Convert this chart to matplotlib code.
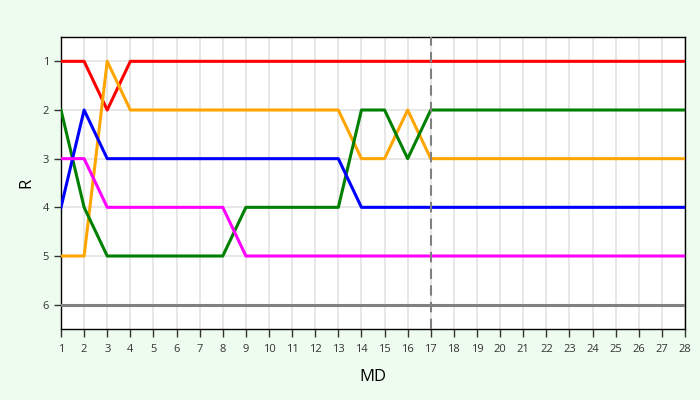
import matplotlib
matplotlib.use("Agg")
import matplotlib.pyplot as plt

md = list(range(1, 29))
red =     [1, 1, 2] + [1] * 25
orange =  [5, 5, 1] + [2] * 10 + [3, 3, 2, 3] + [3] * 11
green =   [2, 4] + [5] * 6 + [4] * 5 + [2, 2, 3, 2] + [2] * 11
blue =    [4, 2] + [3] * 11 + [4] * 15
magenta = [3, 3] + [4] * 6 + [5] * 20
gray =    [6] * 28
series = [("red", red), ("orange", orange), ("green", green),
          ("blue", blue), ("magenta", magenta), ("gray", gray)]
marker_md = 17

plt.rcParams['font.family'] = ['Open Sans', 'DejaVu Sans']
fig = plt.figure(figsize=(7, 4), dpi=100, facecolor='#edfcee')
ax = fig.add_axes([61/700, 1 - 329/400, (685-61)/700, (329-37)/400])
ax.set_facecolor('white')

for c, vals in series:
    ax.plot(md, vals, color=c, lw=2.2, zorder=3)

ax.axvline(marker_md, color='#808080', lw=1.5, ls=(0, (5, 3)), zorder=4)

ax.set_xlim(1, 28)
ax.set_ylim(6.5, 0.5)
ax.set_xticks(md)
ax.set_yticks([1, 2, 3, 4, 5, 6])
ax.grid(True, color='#e3e3e3', lw=1.2, zorder=0)
ax.tick_params(axis='x', labelsize=8, length=6, width=1, pad=5, color='#333333', labelcolor='#333333')
ax.tick_params(axis='y', labelsize=8, length=5, width=1, color='#333333', labelcolor='#333333')
for s in ax.spines.values():
    s.set_color('black')
    s.set_linewidth(1)
ax.set_xlabel('MD', fontsize=12, labelpad=10)
ax.set_ylabel('R', fontsize=12, labelpad=6)

fig.savefig('out.png', dpi=100, facecolor=fig.get_facecolor())
